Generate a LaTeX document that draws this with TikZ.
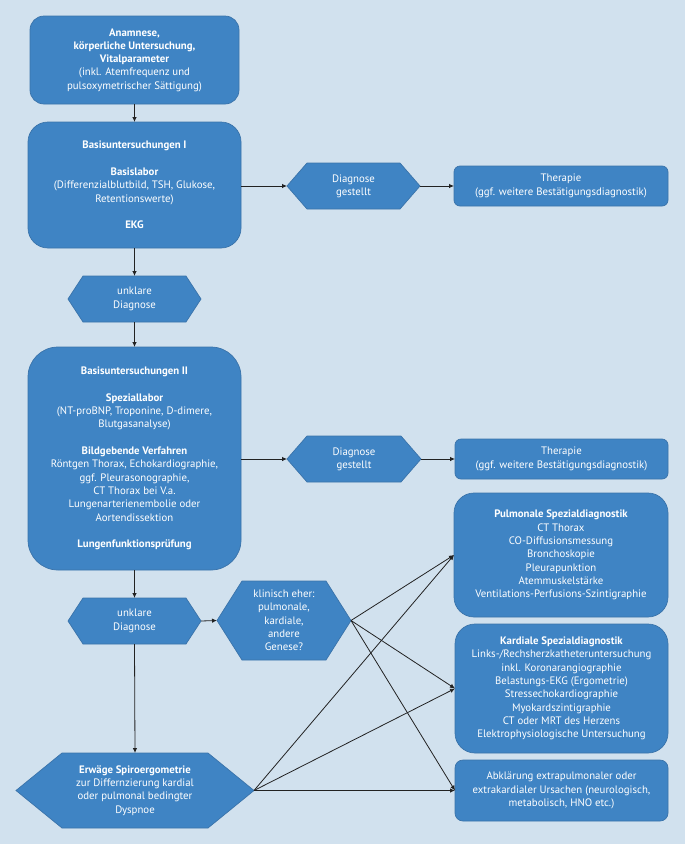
\documentclass[tikz,border=0pt]{standalone}
\usepackage{fontspec}
\setmainfont{PT Sans}
\usetikzlibrary{arrows.meta,calc}
\pgfdeclarelayer{background}
\pgfsetlayers{background,main}
\definecolor{bg}{HTML}{D1E1EE}
\definecolor{boxfill}{HTML}{3F84C4}
\definecolor{boxline}{HTML}{3A73AA}
\definecolor{arr}{HTML}{222222}
\tikzset{
  txt/.style={text=white, align=center, font=\fontsize{10.8}{13.3}\selectfont, inner sep=0pt, outer sep=0pt},
  rbox/.style={txt, rectangle, rounded corners=#1, fill=boxfill, draw=boxline, line width=0.7pt},
  hexbox/.style={txt, rectangle, draw=none},
  conn/.style={draw=arr, line width=0.8pt, -{Latex[length=5pt,width=4.5pt]}},
  hexfill/.style={fill=boxfill, draw=boxline, line width=0.7pt},
}
\newcommand\hexbg[2]{\begin{pgfonlayer}{background}\path[hexfill] (#1.west) -- ($(#1.north west)+(#2,0)$) -- ($(#1.north east)+(-#2,0)$) -- (#1.east) -- ($(#1.south east)+(-#2,0)$) -- ($(#1.south west)+(#2,0)$) -- cycle;\end{pgfonlayer}}
\begin{document}
\begin{tikzpicture}[x=1pt,y=-1pt]
\begin{pgfonlayer}{background}
\fill[bg] (0,0) rectangle (685,844);
\end{pgfonlayer}
\useasboundingbox (0,0) rectangle (685,844);

\node[rbox=14pt, minimum width=209pt, minimum height=88pt] (A) at (134.5,60)
  {\textbf{Anamnese,}\\\textbf{körperliche Untersuchung,}\\\textbf{Vitalparameter}\\(inkl. Atemfrequenz und\\pulsoxymetrischer Sättigung)};

\node[rbox=20pt, minimum width=213pt, minimum height=126pt] (B1) at (134.5,185)
  {\textbf{Basisuntersuchungen I}\\[13.3pt]\textbf{Basislabor}\\(Differenzialblutbild, TSH, Glukose,\\Retentionswerte)\\[13.3pt]\textbf{EKG}};

\node[hexbox, minimum width=133pt, minimum height=46pt] (U1) at (134.5,299) {unklare\\Diagnose};
\hexbg{U1}{15}

\node[hexbox, minimum width=133pt, minimum height=46pt] (DG1) at (353.5,186) {Diagnose\\gestellt};
\hexbg{DG1}{20}

\node[rbox=6pt, minimum width=214pt, minimum height=40pt] (T1) at (561,186)
  {Therapie\\(ggf. weitere Bestätigungsdiagnostik)};

\node[rbox=30pt, minimum width=213pt, minimum height=223pt] (B2) at (134.5,458.5)
  {\textbf{Basisuntersuchungen II}\\[13.3pt]\textbf{Speziallabor}\\(NT-proBNP, Troponine, D-dimere,\\Blutgasanalyse)\\[13.3pt]\textbf{Bildgebende Verfahren}\\Röntgen Thorax, Echokardiographie,\\ggf. Pleurasonographie,\\CT Thorax bei V.a.\\Lungenarterienembolie oder\\Aortendissektion\\[13.3pt]\textbf{Lungenfunktionsprüfung}};

\node[hexbox, minimum width=134pt, minimum height=46pt] (DG2) at (354,459) {Diagnose\\gestellt};
\hexbg{DG2}{20}

\node[rbox=6pt, minimum width=213pt, minimum height=40pt] (T2) at (561.5,459)
  {Therapie\\(ggf. weitere Bestätigungsdiagnostik)};

\node[hexbox, minimum width=133pt, minimum height=46pt] (U2) at (134.5,621) {unklare\\Diagnose};
\hexbg{U2}{15}

\node[hexbox, minimum width=134pt, minimum height=79pt] (K) at (284,620.5) {klinisch eher:\\pulmonale,\\kardiale,\\andere\\Genese?};
\hexbg{K}{25}

\node[hexbox, minimum width=238pt, minimum height=75pt] (S) at (135,790.5)
  {\textbf{Erwäge Spiroergometrie}\\zur Differnzierung kardial\\oder pulmonal bedingter\\Dyspnoe};
\hexbg{S}{46}

\node[rbox=20pt, minimum width=214pt, minimum height=124pt] (P) at (561,555)
  {\textbf{Pulmonale Spezialdiagnostik}\\CT Thorax\\CO-Diffusionsmessung\\Bronchoskopie\\Pleurapunktion\\Atemmuskelstärke\\Ventilations-Perfusions-Szintigraphie};

\node[rbox=20pt, minimum width=213pt, minimum height=129pt] (KD) at (561.5,688.5)
  {\textbf{Kardiale Spezialdiagnostik}\\Links-/Rechsherzkatheteruntersuchung\\inkl. Koronarangiographie\\Belastungs-EKG (Ergometrie)\\Stressechokardiographie\\Myokardszintigraphie\\CT oder MRT des Herzens\\Elektrophysiologische Untersuchung};

\node[rbox=8pt, minimum width=213pt, minimum height=61pt] (AB) at (561.5,790.5)
  {Abklärung extrapulmonaler oder\\extrakardialer Ursachen (neurologisch,\\metabolisch, HNO etc.)};

\draw[conn] (A.south) -- (B1.north);
\draw[conn] (B1.east |- DG1.west) -- (DG1.west);
\draw[conn] (DG1.east) -- (T1.west);
\draw[conn] (B1.south) -- (U1.north);
\draw[conn] (U1.south) -- (B2.north);
\draw[conn] (B2.east |- DG2.west) -- (DG2.west);
\draw[conn] (DG2.east) -- (T2.west);
\draw[conn] (B2.south) -- (U2.north);
\draw[conn] (U2.east) -- (K.west);
\draw[conn] (U2.south) -- (S.north);
\draw[conn] (K.east) -- (P.west);
\draw[conn] (K.east) -- (KD.west);
\draw[conn] (K.east) -- (AB.west);
\draw[conn] (S.east) -- (P.west);
\draw[conn] (S.east) -- (KD.west);
\draw[conn] (S.east) -- (AB.west);
\end{tikzpicture}
\end{document}
